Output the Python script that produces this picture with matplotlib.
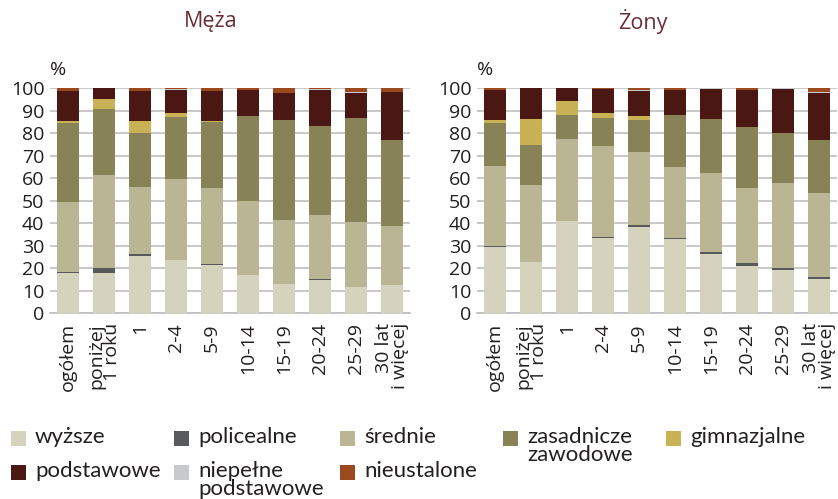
import matplotlib
matplotlib.use('Agg')
import matplotlib.pyplot as plt
from matplotlib.patches import Rectangle
import numpy as np

grupy = ['ogółem', 'poniżej\n1 roku', '1', '2-4', '5-9', '10-14', '15-19', '20-24', '25-29', '30 lat\ni więcej']
kategorie = ['wyższe', 'policealne', 'średnie', 'zasadnicze\nzawodowe', 'gimnazjalne',
             'podstawowe', 'niepełne\npodstawowe', 'nieustalone']
kolory = ['#d5d2bd', '#58595b', '#bab592', '#878357', '#c8b255', '#4b1712', '#c8c9cb', '#9b4a1f']

# Męża
m_wyzsze      = [18.0, 18.0, 25.5, 23.6, 21.6, 17.0, 13.0, 15.0, 11.7, 12.6]
m_policealne  = [0.2, 2.0, 1.0, 0.3, 0.4, 0.0, 0.0, 0.3, 0.0, 0.0]
m_srednie     = [31.3, 41.5, 29.6, 35.8, 33.7, 32.9, 28.5, 28.4, 28.7, 26.2]
m_zasadnicze  = [35.2, 29.3, 24.0, 27.6, 29.3, 37.8, 44.4, 39.6, 46.4, 38.2]
m_gimnazjalne = [0.9, 4.5, 5.4, 1.7, 0.5, 0.0, 0.0, 0.0, 0.0, 0.0]
m_podstawowe  = [13.4, 4.7, 13.3, 10.3, 13.3, 11.6, 12.0, 16.0, 11.3, 21.5]
m_niepelne    = [0.0, 0.0, 0.0, 0.3, 0.0, 0.0, 0.0, 0.3, 0.3, 0.0]
m_nieustalone = [1.0, 0.0, 1.2, 0.4, 1.2, 0.7, 2.1, 0.4, 1.6, 1.5]

# Żony
z_wyzsze      = [29.4, 22.8, 41.0, 33.4, 38.5, 33.0, 26.4, 21.0, 19.4, 15.3]
z_policealne  = [0.3, 0.0, 0.0, 0.3, 0.8, 0.3, 0.9, 1.4, 0.7, 0.8]
z_srednie     = [35.8, 34.2, 36.5, 40.7, 32.4, 31.7, 35.1, 33.3, 37.8, 37.4]
z_zasadnicze  = [19.1, 17.8, 10.6, 12.4, 14.2, 23.1, 24.0, 27.1, 22.2, 23.5]
z_gimnazjalne = [1.3, 11.6, 6.3, 2.2, 2.0, 0.0, 0.0, 0.0, 0.0, 0.0]
z_podstawowe  = [13.4, 13.6, 5.6, 10.6, 11.1, 11.2, 13.3, 16.5, 19.6, 20.9]
z_niepelne    = [0.0, 0.0, 0.0, 0.0, 0.3, 0.0, 0.3, 0.0, 0.3, 0.5]
z_nieustalone = [0.7, 0.0, 0.0, 0.4, 0.7, 0.7, 0.0, 0.7, 0.0, 1.6]

meza = [m_wyzsze, m_policealne, m_srednie, m_zasadnicze, m_gimnazjalne, m_podstawowe, m_niepelne, m_nieustalone]
zony = [z_wyzsze, z_policealne, z_srednie, z_zasadnicze, z_gimnazjalne, z_podstawowe, z_niepelne, z_nieustalone]

plt.rcParams['font.family'] = ['Open Sans', 'DejaVu Sans']
tekst = '#231f20'
siatka = '#bfbfbf'

W, H = 838, 499
fig = plt.figure(figsize=(W / 100, H / 100), dpi=100)

def panel(lewy, dane):
    ax = fig.add_axes([lewy / W, 1 - 313.3 / H, 360 / W, 225 / H])
    x = np.arange(len(grupy))
    dol = np.zeros(len(grupy))
    for wart, kol in zip(dane, kolory):
        ax.bar(x, wart, 0.61, bottom=dol, color=kol, linewidth=0, zorder=3)
        dol = dol + np.array(wart)
    ax.set_xlim(-0.5, 9.5)
    ax.set_ylim(0, 100)
    ax.set_yticks(range(0, 101, 10))
    ax.yaxis.grid(True, color=siatka, linewidth=1.2, zorder=0)
    for s in ['top', 'right', 'left']:
        ax.spines[s].set_visible(False)
    ax.spines['bottom'].set_color(siatka)
    ax.spines['bottom'].set_linewidth(1.2)
    ax.set_xticks(x)
    ax.set_xticklabels(grupy, rotation=90, va='top', ha='center', multialignment='right',
                       linespacing=0.8)
    ax.tick_params(axis='both', length=0, labelsize=14, colors=tekst)
    ax.tick_params(axis='x', pad=7)
    ax.tick_params(axis='y', pad=4)
    ax.text(0, 1.04, '%', transform=ax.transAxes, fontsize=14, color=tekst, va='bottom', ha='left')
    return ax

panel(50, meza)
panel(477, zony)

fig.text(211 / W, 1 - 22 / H, 'Męża', ha='center', va='center', fontsize=15.5, color='#6b2d35')
fig.text(643 / W, 1 - 22 / H, 'Żony', ha='center', va='center', fontsize=15.5, color='#6b2d35')

# legenda
poz = [(11, 438), (174, 438), (340, 438), (503, 438), (666, 438),
       (11, 472), (174, 472), (340, 472)]
for (px, py), nazwa, kol in zip(poz, kategorie, kolory):
    fig.add_artist(Rectangle((px / W, 1 - (py + 7.5) / H), 15 / W, 15 / H,
                             transform=fig.transFigure, color=kol, linewidth=0))
    fig.text((px + 24) / W, 1 - (py - 11) / H, nazwa, ha='left', va='top',
             fontsize=16, color=tekst, family=['Lato', 'DejaVu Sans'], linespacing=0.85)

fig.savefig('out.png', dpi=100)
